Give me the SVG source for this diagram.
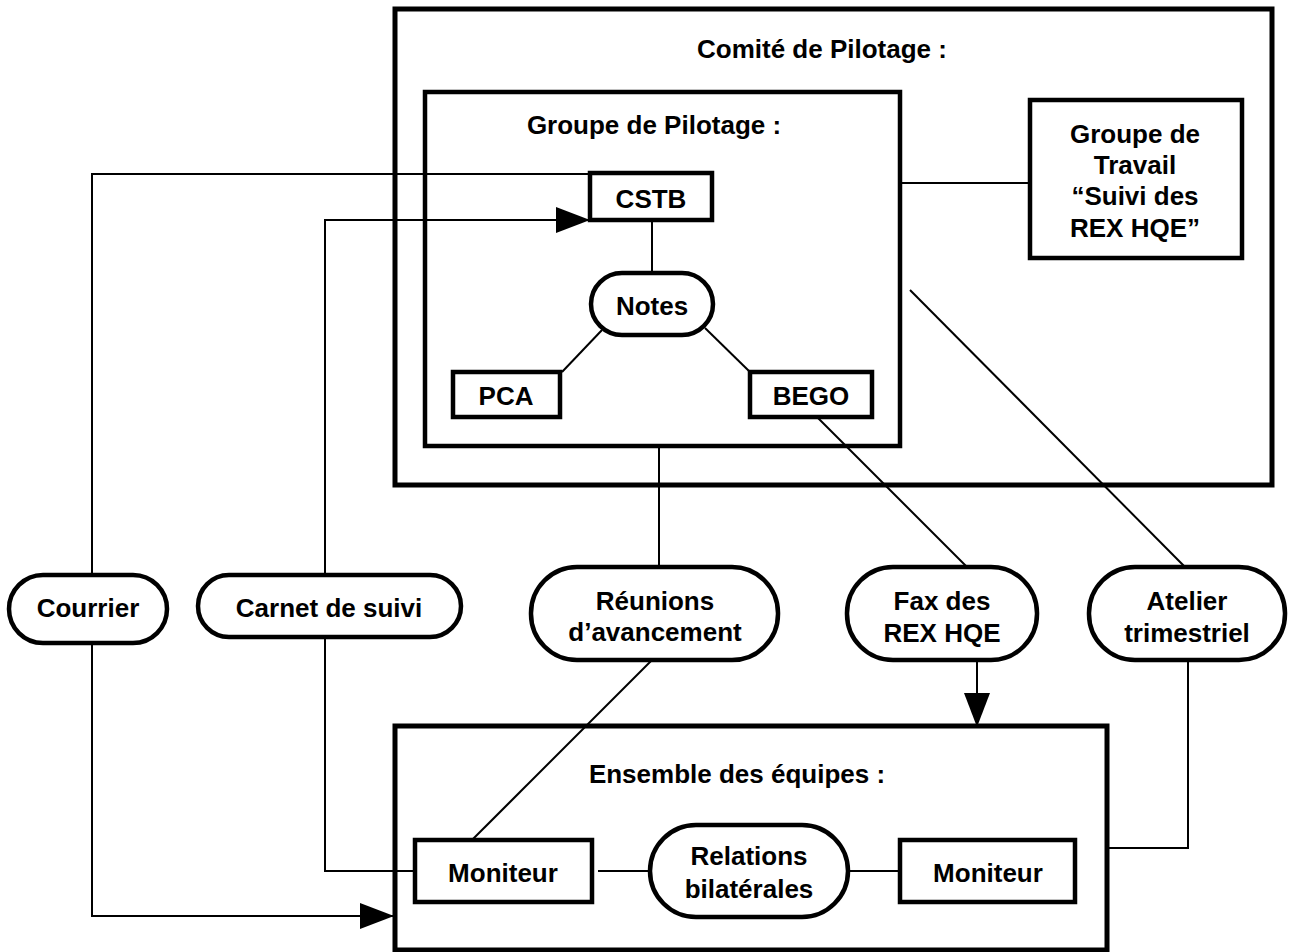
<svg xmlns="http://www.w3.org/2000/svg" width="1291" height="952" viewBox="0 0 1291 952">
<defs>
<style>
.box{fill:none;stroke:#000;stroke-width:5}
.node{fill:#fff;stroke:#000;stroke-width:4.5}
.ln{fill:none;stroke:#000;stroke-width:2}
text{font-family:"Liberation Sans",Arial,sans-serif;font-weight:bold;font-size:26px;text-anchor:middle;fill:#000}
</style>
<marker id="arr" markerWidth="34" markerHeight="26" refX="34" refY="13" orient="auto" markerUnits="userSpaceOnUse">
<path d="M0,0 L34,13 L0,26 Z" fill="#000"/>
</marker>
</defs>
<rect width="1291" height="952" fill="#fff"/>
<g id="comite">
<rect class="box" x="395" y="9" width="877" height="476"/>
<text x="822" y="58">Comité de Pilotage :</text>
</g>
<g id="groupe-pilotage">
<rect class="box" x="425" y="92" width="475" height="354" style="stroke-width:4.5"/>
<text x="654" y="134">Groupe de Pilotage :</text>
</g>
<g id="ensemble">
<rect class="box" x="395" y="726" width="712" height="224"/>
<text x="737" y="783">Ensemble des équipes :</text>
</g>
<g id="connectors">
<line class="ln" x1="900" y1="183" x2="1030" y2="183"/>
<line class="ln" x1="652" y1="220" x2="652" y2="273"/>
<line class="ln" x1="602" y1="330" x2="562" y2="372"/>
<line class="ln" x1="705" y1="328" x2="750" y2="372"/>
<polyline class="ln" points="92,575 92,174 590,174"/>
<polyline class="ln" points="325,575 325,220 590,220" marker-end="url(#arr)"/>
<polyline class="ln" points="92,643 92,916 394,916" marker-end="url(#arr)"/>
<polyline class="ln" points="325,637 325,871 415,871"/>
<line class="ln" x1="659" y1="446" x2="659" y2="567"/>
<line class="ln" x1="818" y1="418" x2="967" y2="567"/>
<line class="ln" x1="910" y1="290" x2="1185" y2="567"/>
<line class="ln" x1="652" y1="660" x2="472" y2="840"/>
<line class="ln" x1="977" y1="660" x2="977" y2="727" marker-end="url(#arr)"/>
<polyline class="ln" points="1188,660 1188,848 1107,848"/>
<line class="ln" x1="598" y1="871" x2="650" y2="871"/>
<line class="ln" x1="848" y1="871" x2="900" y2="871"/>
</g>
<g id="groupe-travail">
<rect class="node" x="1030" y="100" width="212" height="158"/>
<text x="1135" y="143">Groupe de</text>
<text x="1135" y="174">Travail</text>
<text x="1135" y="205">“Suivi des</text>
<text x="1135" y="237">REX HQE”</text>
</g>
<g id="cstb">
<rect class="node" x="590" y="173" width="122" height="47"/>
<text x="651" y="208">CSTB</text>
</g>
<g id="notes">
<rect class="node" x="591" y="273" width="122" height="62" rx="31"/>
<text x="652" y="315">Notes</text>
</g>
<g id="pca">
<rect class="node" x="453" y="372" width="107" height="45"/>
<text x="506" y="405">PCA</text>
</g>
<g id="bego">
<rect class="node" x="750" y="372" width="122" height="45"/>
<text x="811" y="405">BEGO</text>
</g>
<g id="courrier">
<rect class="node" x="9" y="575" width="158" height="68" rx="34"/>
<text x="88" y="617">Courrier</text>
</g>
<g id="carnet">
<rect class="node" x="198" y="575" width="263" height="62" rx="31"/>
<text x="329" y="617">Carnet de suivi</text>
</g>
<g id="reunions">
<rect class="node" x="531" y="567" width="247" height="93" rx="46"/>
<text x="655" y="610">Réunions</text>
<text x="655" y="641">d’avancement</text>
</g>
<g id="fax">
<rect class="node" x="847" y="567" width="190" height="93" rx="46"/>
<text x="942" y="610">Fax des</text>
<text x="942" y="642">REX HQE</text>
</g>
<g id="atelier">
<rect class="node" x="1089" y="567" width="196" height="93" rx="46"/>
<text x="1187" y="610">Atelier</text>
<text x="1187" y="642">trimestriel</text>
</g>
<g id="moniteur1">
<rect class="node" x="415" y="840" width="177" height="62"/>
<text x="503" y="882">Moniteur</text>
</g>
<g id="relations">
<rect class="node" x="650" y="825" width="198" height="92" rx="46"/>
<text x="749" y="865">Relations</text>
<text x="749" y="898">bilatérales</text>
</g>
<g id="moniteur2">
<rect class="node" x="900" y="840" width="175" height="62"/>
<text x="988" y="882">Moniteur</text>
</g>
</svg>
